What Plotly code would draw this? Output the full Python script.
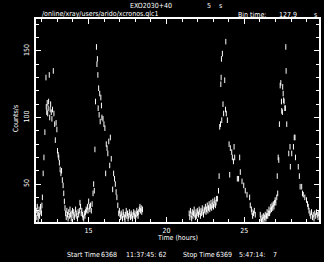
import plotly.graph_objects as go

# ---- data (time in hours, rate in counts/s) ----
seg1_hours = [11.65, 11.68, 11.71, 11.74, 11.77, 11.80, 11.83, 11.86, 11.89, 11.92, 11.95, 11.98, 12.01, 12.04,
              12.09, 12.14, 12.20,
              12.27, 12.29, 12.32, 12.35, 12.38, 12.41, 12.44, 12.48, 12.51, 12.54, 12.57, 12.61, 12.65, 12.69, 12.74, 12.78,
              12.83, 12.87, 12.92, 12.97, 13.01, 13.05, 13.09, 13.13, 13.18, 13.23, 13.27, 13.32, 13.37, 13.41, 13.45, 13.49,
              13.53, 13.57, 13.61, 13.65, 13.69, 13.73, 13.77, 13.81, 13.85, 13.89, 13.93, 13.97, 14.01, 14.05, 14.09, 14.13,
              14.17, 14.21, 14.25, 14.29, 14.33, 14.37, 14.41, 14.45, 14.49, 14.53, 14.57, 14.61, 14.65, 14.69, 14.73, 14.77,
              14.81, 14.85, 14.89, 14.93, 14.97]
seg1_counts = [30, 25, 33, 28, 23, 27, 31, 26, 29, 33, 30, 28, 34, 40,
               58, 70, 89,
               130, 108, 104, 111, 103, 107, 112, 132, 100, 106, 110, 104, 99, 106, 135, 103,
               95, 83, 96, 91, 75, 72, 70, 66, 61, 58, 60, 53, 49, 43, 37, 32,
               28, 25, 30, 27, 24, 29, 26, 31, 27, 24, 28, 30, 26, 29, 25, 27,
               31, 28, 26, 24, 29, 27, 30, 36, 33, 28, 30, 27, 25, 24, 28, 26,
               29, 31, 30, 33, 30]

seg2_hours = [15.01, 15.05, 15.09, 15.13, 15.18, 15.23, 15.29, 15.33, 15.37, 15.41, 15.45, 15.51, 15.54, 15.57,
              15.60, 15.62, 15.65, 15.68, 15.72, 15.75, 15.79, 15.83, 15.86, 15.93, 15.99, 16.05, 16.10, 16.14,
              16.19, 16.24, 16.30, 16.36, 16.40, 16.46, 16.55, 16.61, 16.67, 16.72, 16.77, 16.82, 16.88, 16.94,
              16.98, 17.02, 17.06, 17.10, 17.14, 17.18, 17.22, 17.26, 17.30, 17.34, 17.38, 17.42, 17.46, 17.50,
              17.54, 17.58, 17.62, 17.66, 17.70, 17.74, 17.78, 17.82, 17.86, 17.90, 17.94, 17.98, 18.02, 18.06,
              18.10, 18.14, 18.18, 18.22, 18.26, 18.30, 18.34, 18.38, 18.42, 18.46]
seg2_counts = [37, 33, 31, 34, 30, 35, 43, 50, 45, 76, 112, 153, 140, 144,
               132, 107, 122, 102, 118, 97, 115, 109, 100, 99, 95, 92, 58, 80,
               77, 73, 82, 64, 85, 69, 46, 58, 54, 50, 44, 40, 34, 28,
               30, 27, 25, 28, 26, 24, 29, 27, 25, 23, 27, 30, 26, 28,
               24, 26, 29, 27, 25, 28, 26, 24, 27, 29, 26, 28, 25, 27,
               30, 28, 26, 29, 31, 33, 30, 32, 29, 31]

seg3_hours = [21.46, 21.50, 21.54, 21.58, 21.62, 21.66, 21.70, 21.74, 21.78, 21.82, 21.86, 21.90, 21.94, 21.98,
              22.02, 22.06, 22.10, 22.14, 22.18, 22.22, 22.26, 22.30, 22.34, 22.38, 22.42, 22.46, 22.50, 22.54,
              22.58, 22.62, 22.66, 22.70, 22.74, 22.78, 22.82, 22.86, 22.90, 22.94, 22.98, 23.02, 23.06, 23.10,
              23.14, 23.18, 23.22,
              23.27, 23.34, 23.38, 23.42, 23.47, 23.49, 23.51, 23.53, 23.55, 23.59, 23.63, 23.67, 23.74, 23.79,
              23.81, 23.84, 23.91, 24.02, 24.06, 24.10, 24.19, 24.23, 24.30, 24.34, 24.38, 24.55, 24.63, 24.70,
              24.74, 24.85, 24.96, 25.06, 25.17, 25.34, 25.38, 25.45, 25.49, 25.53, 25.59, 25.64, 25.70]
seg3_counts = [28, 25, 30, 27, 24, 29, 26, 28, 31, 27, 25, 29, 26, 30,
               28, 27, 31, 29, 26, 30, 28, 32, 29, 27, 31, 30, 33, 29,
               31, 34, 30, 32, 35, 31, 33, 36, 32, 34, 37, 33, 35, 38,
               34, 36, 39,
               39, 45, 56, 93, 95, 125, 130, 144, 98, 148, 110, 103, 128, 106,
               157, 103, 98, 80, 57, 77, 74, 70, 67, 78, 70, 54, 54, 70,
               59, 52, 49, 45, 42, 40, 34, 31, 29, 26, 28, 30, 27]

seg4_hours = [26.02, 26.06, 26.10, 26.14, 26.18, 26.22, 26.26, 26.30, 26.34, 26.38, 26.42, 26.46, 26.50, 26.54,
              26.58, 26.62, 26.66, 26.70, 26.74, 26.78, 26.82, 26.86, 26.90, 26.94, 26.98, 27.02,
              27.08, 27.11, 27.14, 27.17, 27.21, 27.25, 27.30, 27.34, 27.38, 27.40, 27.44, 27.46, 27.49, 27.52,
              27.55, 27.60, 27.63, 27.66, 27.68, 27.72, 27.85, 27.93, 27.95, 28.04, 28.15, 28.20, 28.25, 28.28,
              28.46, 28.53, 28.58, 28.68, 28.73, 28.78, 28.88, 28.99, 29.05, 29.10, 29.15, 29.21, 29.26, 29.31,
              29.37, 29.42, 29.47, 29.52, 29.58, 29.63, 29.68, 29.73, 29.77]
seg4_counts = [27, 24, 22, 25, 23, 26, 22, 25, 27, 24, 26, 29, 26, 28,
               31, 28, 30, 33, 31, 34, 32, 35, 33, 36, 38, 36,
               40, 56, 43, 70, 68, 95, 124, 126, 112, 105, 104, 123, 118, 113,
               112, 107, 107, 153, 135, 95, 73, 78, 63, 73, 78, 85, 85, 70,
               63, 56, 48, 48, 43, 42, 40, 38, 35, 33, 30, 28, 26, 29,
               25, 27, 24, 28, 26, 29, 27, 25, 28]

x_range = [11.63, 29.79]
y_range = [21.5, 174]

hours = seg1_hours + seg2_hours + seg3_hours + seg4_hours
counts = seg1_counts + seg2_counts + seg3_counts + seg4_counts

W, H = 324, 262
ML, MR, MT, MB = 36, 3, 19, 40
PW, PH = W - ML - MR, H - MT - MB


def px(x):
    return (x - ML) / PW


def py(y):
    return (H - MB - y) / PH


FONT = "Liberation Sans Narrow, DejaVu Sans Condensed, Liberation Sans, sans-serif"
FS = 7

fig = go.Figure()
fig.add_trace(go.Scatter(
    x=hours, y=counts, mode="markers",
    marker=dict(symbol="line-ns-open", size=4, color="white",
                line=dict(color="white", width=1)),
    showlegend=False, hoverinfo="x+y",
))

axis_common = dict(
    showline=True, linecolor="white", linewidth=2, mirror="allticks",
    ticks="inside", tickcolor="white", tickwidth=1,
    showgrid=False, zeroline=False,
    tickfont=dict(color="white", size=FS, family=FONT),
)

fig.update_xaxes(range=x_range, tick0=0, dtick=5, ticklen=5, ticklabelstandoff=1,
                 minor=dict(dtick=1, ticklen=3, ticks="inside", tickcolor="white", showgrid=False),
                 **axis_common)
fig.update_yaxes(range=y_range, tick0=0, dtick=50, ticklen=5, tickangle=-90, ticklabelstandoff=2,
                 minor=dict(dtick=10, ticklen=3, ticks="inside", tickcolor="white", showgrid=False),
                 **axis_common)

texts = [
    ("EXO2030+40", 152, 6),
    ("5", 210, 6),
    ("s", 222, 6),
    ("/online/xray/users/arido/xcronos.qlc1", 100, 14),
    ("Bin time:", 254, 15),
    ("127.9", 289.5, 15),
    ("s", 317, 15),
    ("Time (hours)", 178, 238),
    ("Start Time", 84, 255),
    ("6368", 109.5, 255),
    ("11:37:45: 62", 146.5, 255),
    ("Stop Time", 200, 255),
    ("6369", 225, 255),
    ("5:47:14:", 254, 255),
    ("7", 276.5, 255),
]
anns = []
for t, x, y in texts:
    anns.append(dict(text=t, x=px(x), y=py(y), xref="paper", yref="paper",
                     xanchor="center", yanchor="middle", showarrow=False,
                     font=dict(color="white", size=FS, family=FONT)))
anns.append(dict(text="Counts/s", x=px(16), y=py(119), xref="paper", yref="paper",
                 xanchor="center", yanchor="middle", showarrow=False, textangle=-90,
                 font=dict(color="white", size=FS, family=FONT)))

fig.update_layout(
    width=W, height=H, autosize=False,
    margin=dict(l=ML, r=MR, t=MT, b=MB, pad=0),
    paper_bgcolor="black", plot_bgcolor="black",
    annotations=anns,
)

fig.write_html("out.html")
